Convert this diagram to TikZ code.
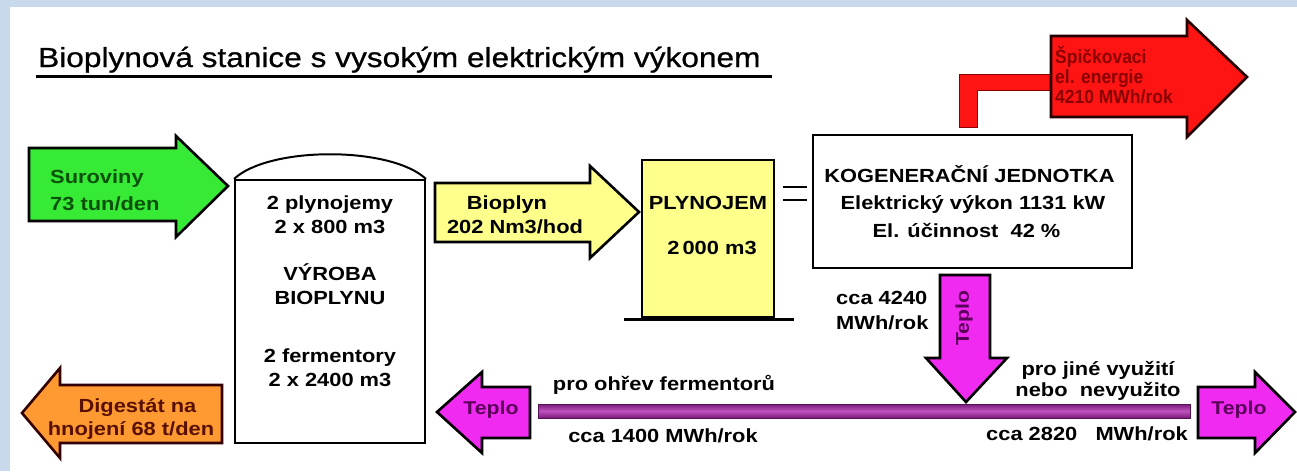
\documentclass[tikz,border=0pt]{standalone}
\usepackage{fontspec}
\newfontfamily\lab{Liberation Sans}[FakeStretch=1.15]
\newfontfamily\labt{Liberation Sans}[FakeStretch=1.15,FakeBold=0.8]
\newfontfamily\labn{Liberation Sans}[FakeStretch=0.92]
\usetikzlibrary{calc}
\definecolor{bgblue}{HTML}{C7D9EB}
\definecolor{sgreen}{HTML}{36EA36}
\definecolor{dgreen}{HTML}{0A520A}
\definecolor{syellow}{HTML}{FFFF8C}
\definecolor{sred}{HTML}{FF1414}
\definecolor{dred}{HTML}{8A0000}
\definecolor{sorange}{HTML}{FF9A33}
\definecolor{dbrown}{HTML}{5A1000}
\definecolor{smag}{HTML}{F02AF0}
\definecolor{dpurple}{HTML}{5A005A}
\definecolor{barmid}{HTML}{C052C0}
\definecolor{baredge}{HTML}{781A78}
\begin{document}
\begin{tikzpicture}[x=1pt,y=-1pt,
  lbl/.style={inner sep=0pt, anchor=base, font=\lab\bfseries\fontsize{19}{22}\selectfont},
  rlbl/.style={inner sep=0pt, anchor=base west, text=dred, font=\labn\bfseries\fontsize{19}{20}\selectfont},
  tlbl/.style={inner sep=0pt, text=dpurple, font=\lab\bfseries\fontsize{18.5}{20}\selectfont},
  boxa/.style={draw=black, line width=2.4pt, inner sep=0pt},
  arrowline/.style={draw=black, line width=2.6pt, line join=miter},
  darkline/.style={draw=dbrown, line width=2.6pt, line join=miter}]
\useasboundingbox (0,0) rectangle (1297,471);
% background frame
\fill[bgblue] (0,0) rectangle (1297,471);
\fill[white] (10,7) rectangle (1297,471);

% title
\node[inner sep=0pt, anchor=base west, font=\labt\fontsize{27.5}{30}\selectfont] (title) at (38,67) {Bioplynová stanice s vysokým elektrickým výkonem};
\draw[line width=3pt] (36,76) -- (772,76);

% boxes
\node[boxa, line width=2pt, minimum width=190pt, minimum height=263pt] (ferm) at (330,311.5) {};
\draw[line width=2pt] (ferm.north west) .. controls ($(ferm.north west)+(35,-33)$) and ($(ferm.north east)+(-35,-33)$) .. (ferm.north east);
\node[boxa, fill=syellow, minimum width=132pt, minimum height=157pt] (plyn) at (708,238.5) {};
\draw[line width=3pt] ($(plyn.south west)+(-17,1)$) coordinate (pb1) -- ($(plyn.south east)+(19,1)$) coordinate (pb2);
\node[boxa, minimum width=319pt, minimum height=133pt] (kog) at (972.5,201.5) {};

% equals sign between PLYNOJEM and KOGENERACNI JEDNOTKA
\draw[line width=2.5pt] ($(plyn.east)+(8,-51.5)$) -- ($(kog.west)+(-5,-14.5)$);
\draw[line width=2.5pt] ($(plyn.east)+(8,-38.5)$) -- ($(kog.west)+(-5,-1.5)$);

% green input arrow
\filldraw[arrowline, fill=sgreen] (29,148) -- (176,148) -- (176,136) -- (228,186) -- (176,237) -- (176,221) -- (29,221) -- cycle;
\node[lbl, text=dgreen, anchor=base west] (sur1) at (50,183) {Suroviny};
\node[lbl, text=dgreen, anchor=base west] (sur2) at (50,210) {73 tun/den};

% fermenter texts
\node[lbl] (f1) at (330,209) {2 plynojemy};
\node[lbl] (f2) at (330,233) {2 x 800 m3};
\node[lbl] (f3) at (330,280) {VÝROBA};
\node[lbl] (f4) at (330,304) {BIOPLYNU};
\node[lbl] (f5) at (330,362) {2 fermentory};
\node[lbl] (f6) at (330,386) {2 x 2400 m3};

% yellow biogas arrow
\filldraw[arrowline, fill=syellow] (435,183) -- (590,183) -- (590,166) -- (639,212) -- (590,258) -- (590,242) -- (435,242) -- cycle;
\node[lbl] (bio1) at (507,209) {Bioplyn};
\node[lbl] (bio2) at (515,233) {202 Nm3/hod};

% PLYNOJEM texts
\node[lbl] (p1) at (708,209) {PLYNOJEM};
\node[lbl] (p2) at (712,254) {2\,000 m3};

% KOGENERACE texts
\node[lbl] (k1) at (969.5,182) {KOGENERAČNÍ JEDNOTKA};
\node[lbl] (k2) at (973,209) {Elektrický výkon 1131 kW};
\node[lbl] (k3) at (966.5,237) {El. účinnost\ \ 42 \%};

% red electricity output
\coordinate (lb) at ($(kog.north)+(-4.5,0)$);
\filldraw[draw=dred, line width=1pt, fill=sred] (959,127) -- (959,74) -- (1051,74) -- (1051,90) -- (977,90) -- (977,127) -- cycle;
\filldraw[darkline, draw=black!85!red, fill=sred] (1051,36) -- (1187,36) -- (1187,20) -- (1247,77) -- (1187,137) -- (1187,117) -- (1051,117) -- cycle;
\node[rlbl] (r1) at (1055,63) {Špičkovaci};
\node[rlbl] (r2) at (1055,83) {el. energie};
\node[rlbl] (r3) at (1055,103) {4210 MWh/rok};

% heat down arrow
\filldraw[arrowline, fill=smag] (940,275) -- (990,275) -- (990,358) -- (1007,358) -- (966,402) -- (926,358) -- (940,358) -- cycle;
\node[tlbl, rotate=90] (tdown) at (964,318) {Teplo};
\node[lbl, anchor=base west] (c1) at (836,304) {cca 4240};
\node[lbl, anchor=base west] (c2) at (836,329) {MWh/rok};

% heat bar
\shade[top color=baredge, bottom color=baredge, middle color=barmid] (538,404) rectangle (1190,418);
\draw[baredge!70!black, line width=0.8pt] (538,404) rectangle (1190,418);

% left heat arrow
\filldraw[arrowline, fill=smag] (530,387) -- (482,387) -- (482,372) -- (437,412) -- (482,453) -- (482,438) -- (530,438) -- cycle;
\node[tlbl] (tl) at (491,410) {Teplo};
% right heat arrow
\filldraw[arrowline, fill=smag] (1198,387) -- (1255,387) -- (1255,372) -- (1295,412) -- (1255,453) -- (1255,438) -- (1198,438) -- cycle;
\node[tlbl] (tr) at (1239,410) {Teplo};

% heat texts
\node[lbl] (h1) at (664,390) {pro ohřev fermentorů};
\node[lbl] (h2) at (663,442) {cca 1400 MWh/rok};
\node[lbl] (h3) at (1098,375) {pro jiné využití};
\node[lbl] (h4) at (1098,396) {nebo\ \ nevyužito};
\node[lbl] (h5) at (1087,440) {cca 2820\ \ \ MWh/rok};

% orange digestate arrow
\filldraw[darkline, draw=black!80!red, fill=sorange] (222,385) -- (60,385) -- (60,368) -- (22,413) -- (60,458) -- (60,443) -- (222,443) -- cycle;
\node[lbl, text=dbrown] (d1) at (137.5,412) {Digestát na};
\node[lbl, text=dbrown] (d2) at (131,435) {hnojení 68 t/den};
\end{tikzpicture}
\end{document}
